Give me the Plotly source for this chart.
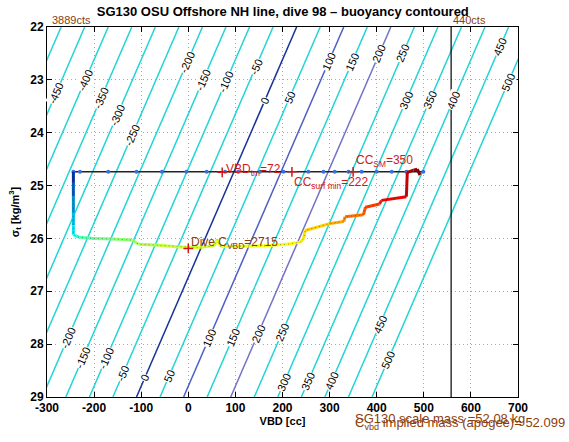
import plotly.graph_objects as go
from plotly.colors import sample_colorscale

# ---------------- data ----------------
# buoyancy contour levels [g] and contour geometry (straight lines in VBD/sigma space)
CONTOUR_LEVELS = list(range(-500, 501, 50))
VBD_OF_ZERO_AT_TOP = 230.0     # VBD [cc] of 0 g contour at sigma_t = 22
CC_PER_SIGMA = 48.57           # contour drift in VBD per sigma unit
CC_PER_GRAM = 1.0
SIGMA_TOP, SIGMA_BOTTOM = 22.0, 29.0

# where the contour labels sit (sigma values along each contour)
LABEL_SIGMA = {
    -450: [23.25], -400: [23.0], -350: [23.34], -300: [23.66], -250: [24.04],
    -200: [22.66, 27.88], -150: [23.0, 28.26], -100: [23.04, 28.26],
    -50: [22.75, 28.55], 0: [23.4, 28.64], 50: [23.34, 28.6],
    100: [22.66, 27.88], 150: [22.66, 27.88], 200: [22.5, 27.8],
    250: [22.5, 27.77], 300: [23.38, 28.72], 350: [23.38, 28.7],
    400: [23.38, 28.7], 450: [22.38, 27.63], 500: [23.04, 28.3],
}
BLUE_LEVELS = {0: "#17339a", 100: "#4d5fc4", 200: "#7273c6"}

# dive trajectory (VBD [cc], sigma_t, colour fraction along dive)
TRAJ_VBD = [-244, -244, -244, -244, -244, -244, -232, -200, -160, -120, -105, -60, -20,
            20, 55, 61, 68, 110, 160, 210, 238, 245, 248, 300, 330, 333, 372, 376,
            406, 410, 463, 465, 478, 486, 492]
TRAJ_SIGMA = [24.74, 24.95, 25.2, 25.5, 25.75, 25.93, 25.98, 26.0, 26.01, 26.03, 26.11,
              26.13, 26.16, 26.17, 26.14, 26.02, 26.15, 26.15, 26.14, 26.11, 26.07, 26.0,
              25.85, 25.72, 25.68, 25.59, 25.55, 25.41, 25.35, 25.28, 25.21, 24.75,
              24.71, 24.69, 24.80]
TRAJ_FRAC = [0.14, 0.2, 0.26, 0.31, 0.35, 0.39, 0.45, 0.48, 0.50, 0.52, 0.53, 0.55, 0.56,
             0.565, 0.57, 0.575, 0.58, 0.585, 0.59, 0.60, 0.61, 0.615, 0.625, 0.65, 0.68,
             0.70, 0.72, 0.74, 0.76, 0.78, 0.83, 0.90, 0.94, 0.97, 1.0]

# surface line
SURFACE_SIGMA = 24.74
SURFACE_VBD_RANGE = [-246, 500]
SURFACE_DOT_VBD = [-244, -230, -170, -110, -56, -4, 39, 78, 106, 152, 202, 255, 287,
                   311, 340, 368, 400, 432, 463, 499]

# VBD limits
VBD_MAX_LINE = 558
CTS_LABELS = [("3889cts", -294), ("440cts", 558)]

# marked points
VBD_TM = 72
CC_SURF_MIN = 220
CC_SM = 350
DIVE_CVBD_POINT = (0, 26.19)

X_TICKS = list(range(-300, 701, 100))
Y_TICKS = list(range(22, 30))

# ---------------- figure ----------------
FONT = "Liberation Sans, Arial, Helvetica, sans-serif"
BROWN = "#8b3d0c"
RED = "#d01818"

fig = go.Figure()


def contour_vbd(level, sigma):
    return VBD_OF_ZERO_AT_TOP + level * CC_PER_GRAM - CC_PER_SIGMA * (sigma - SIGMA_TOP)


for lev in CONTOUR_LEVELS:
    col = BLUE_LEVELS.get(lev, "#22d4d6")
    fig.add_trace(go.Scatter(
        x=[contour_vbd(lev, SIGMA_TOP), contour_vbd(lev, SIGMA_BOTTOM)],
        y=[SIGMA_TOP, SIGMA_BOTTOM], mode="lines",
        line=dict(color=col, width=1.5), hoverinfo="skip", showlegend=False))

# vertical VBD limit line
fig.add_trace(go.Scatter(x=[VBD_MAX_LINE, VBD_MAX_LINE], y=[SIGMA_TOP, SIGMA_BOTTOM],
                         mode="lines", line=dict(color="black", width=1.2),
                         showlegend=False, hoverinfo="skip"))

# surface line with dots
fig.add_trace(go.Scatter(x=SURFACE_VBD_RANGE, y=[SURFACE_SIGMA] * 2, mode="lines",
                         line=dict(color="#222222", width=1.5), showlegend=False))
fig.add_trace(go.Scatter(x=SURFACE_DOT_VBD, y=[SURFACE_SIGMA] * len(SURFACE_DOT_VBD),
                         mode="markers", marker=dict(color="#3a6fe0", size=4),
                         showlegend=False))

# coloured trajectory
for i in range(len(TRAJ_VBD) - 1):
    f = 0.5 * (TRAJ_FRAC[i] + TRAJ_FRAC[i + 1])
    col = sample_colorscale("Jet", [f])[0]
    fig.add_trace(go.Scatter(x=TRAJ_VBD[i:i + 2], y=TRAJ_SIGMA[i:i + 2], mode="lines",
                             line=dict(color=col, width=3), showlegend=False,
                             hoverinfo="skip"))
fig.add_trace(go.Scatter(x=TRAJ_VBD, y=TRAJ_SIGMA, mode="lines",
                         line=dict(color="rgba(40,40,40,0.45)", width=1, dash="1px,3px"),
                         showlegend=False, hoverinfo="skip"))

# red + markers
fig.add_trace(go.Scatter(x=[VBD_TM, CC_SURF_MIN, CC_SM],
                         y=[SURFACE_SIGMA + 0.01, SURFACE_SIGMA, SURFACE_SIGMA],
                         mode="markers",
                         marker=dict(symbol="cross-thin", size=7,
                                     line=dict(color=RED, width=1.5)),
                         showlegend=False))
fig.add_trace(go.Scatter(x=[DIVE_CVBD_POINT[0]], y=[DIVE_CVBD_POINT[1]], mode="markers",
                         marker=dict(symbol="cross-thin", size=7,
                                     line=dict(color=RED, width=1.5)),
                         showlegend=False))

ann = []
# contour labels
for lev, sigs in LABEL_SIGMA.items():
    for s in sigs:
        ann.append(dict(x=contour_vbd(lev, s), y=s, text=str(lev), showarrow=False,
                        textangle=-66.6, bgcolor="white", borderpad=0,
                        font=dict(family=FONT, size=11, color="black")))

ann += [
    dict(x=VBD_TM + 3, y=24.70, text="VBD<sub>tm</sub>=72", xanchor="left",
         yanchor="middle", showarrow=False, font=dict(family=FONT, size=12, color=RED)),
    dict(x=CC_SURF_MIN + 1, y=24.77, text="CC<sub>surf min</sub>=222", xanchor="left",
         yanchor="top", showarrow=False, font=dict(family=FONT, size=12, color=RED)),
    dict(x=CC_SM + 1, y=24.73, text="CC<sub>SM</sub>=350", xanchor="left",
         yanchor="bottom", showarrow=False, font=dict(family=FONT, size=12, color=RED)),
    dict(x=DIVE_CVBD_POINT[0] + 1, y=26.08, text="Dive C<sub>VBD</sub>=2715",
         xanchor="left", yanchor="middle", showarrow=False,
         font=dict(family=FONT, size=12, color=BROWN)),
    dict(x=350, y=-0.058, yref="paper", text="SG130 scale mass =52.08 kg",
         xanchor="left", yanchor="middle", showarrow=False,
         font=dict(family=FONT, size=13, color=BROWN)),
    dict(x=350, y=-0.072, yref="paper", text="C<sub>vbd</sub> implied mass (apogee)= 52.099",
         xanchor="left", yanchor="middle", showarrow=False,
         font=dict(family=FONT, size=13, color=BROWN)),
]
for txt, xv in CTS_LABELS:
    ann.append(dict(x=xv, y=1.0, yref="paper", text=txt, xanchor="left",
                    yanchor="bottom", showarrow=False, yshift=-1,
                    font=dict(family=FONT, size=11, color=BROWN)))

fig.update_layout(
    width=569, height=442,
    margin=dict(l=47, r=51, t=27, b=45, autoexpand=False),
    paper_bgcolor="white", plot_bgcolor="white",
    title=dict(text="<b>SG130 OSU Offshore NH line, dive 98 – buoyancy contoured</b>",
               x=0.497, xanchor="center", y=0.973, yanchor="middle",
               font=dict(family=FONT, size=13, color="black")),
    annotations=ann,
    showlegend=False,
)
axis_common = dict(showline=True, linecolor="black", linewidth=1, mirror="allticks",
                   ticks="inside", ticklen=5, tickcolor="black", automargin=False,
                   showgrid=True, gridcolor="#a8a8a8", griddash="1px,3px", gridwidth=1,
                   zeroline=False,
                   tickfont=dict(family=FONT, size=12, color="black"))
fig.update_xaxes(range=[-300, 700], tickvals=X_TICKS,
                 ticktext=[f"<b>{v}</b>" for v in X_TICKS],
                 title=dict(text="<b>VBD [cc]</b>", standoff=2,
                            font=dict(family=FONT, size=11, color="black")),
                 **axis_common)
fig.update_yaxes(range=[29, 22], tickvals=Y_TICKS,
                 ticktext=[f"<b>{v}</b>" for v in Y_TICKS],
                 title=dict(text="<b>σ<sub>t</sub> [kg/m<sup>3</sup>]</b>", standoff=8,
                            font=dict(family=FONT, size=11, color="black")),
                 **axis_common)

fig.write_html("out.html", config={"displayModeBar": False},
               post_script="document.body.style.margin='0';document.body.style.overflow='hidden';")
